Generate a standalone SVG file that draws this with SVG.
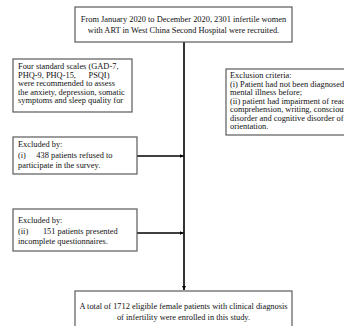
<svg xmlns="http://www.w3.org/2000/svg" width="344" height="326" viewBox="0 0 344 326">
<defs>
<style>
.box{fill:#fff;stroke:#5a5a5a;stroke-width:1.2}
.t{font-family:"Liberation Serif","Times New Roman",serif;font-size:8.4px;fill:#111;white-space:pre}
.c{text-anchor:middle}
.ln{stroke:#000;stroke-width:1.6;fill:none}
</style>
<marker id="ah" viewBox="0 0 10 10" refX="10" refY="5" markerWidth="4" markerHeight="4" orient="auto" markerUnits="userSpaceOnUse">
<path d="M0,0 L10,5 L0,10 Z" fill="#000"/>
</marker>
</defs>
<rect width="344" height="326" fill="#fff"/>
<g id="connectors">
<line class="ln" x1="184" y1="42" x2="184" y2="290" marker-end="url(#ah)"/>
<line class="ln" x1="137" y1="156" x2="183.5" y2="156" marker-end="url(#ah)"/>
<line class="ln" x1="137" y1="233" x2="183.5" y2="233" marker-end="url(#ah)"/>
</g>
<g id="start">
<rect class="box" x="75" y="7" width="217" height="35"/>
<text class="t c" x="183.5" y="21.5">From January 2020 to December 2020, 2301 infertile women</text>
<text class="t c" x="183.5" y="32.5">with ART in West China Second Hospital were recruited.</text>
</g>
<g id="scales">
<rect class="box" x="13" y="59" width="119" height="53"/>
<text class="t" x="18" y="69">Four standard scales (GAD-7,</text>
<text class="t" x="18" y="77.5" xml:space="preserve">PHQ-9, PHQ-15,      PSQI)</text>
<text class="t" x="18" y="86">were recommended to assess</text>
<text class="t" x="18" y="94.5">the anxiety, depression, somatic</text>
<text class="t" x="18" y="103">symptoms and sleep quality for</text>
</g>
<g id="criteria">
<rect class="box" x="226" y="69" width="130" height="66"/>
<text class="t" x="230" y="78">Exclusion criteria:</text>
<text class="t" x="230" y="86.5">(i) Patient had not been diagnosed with</text>
<text class="t" x="230" y="95">mental illness before;</text>
<text class="t" x="230" y="103.5">(ii) patient had impairment of reading,</text>
<text class="t" x="230" y="112">comprehension, writing, consciousness</text>
<text class="t" x="230" y="120.5">disorder and cognitive disorder of</text>
<text class="t" x="230" y="129">orientation.</text>
</g>
<g id="excl1">
<rect class="box" x="13" y="137" width="124" height="37"/>
<text class="t" x="18" y="147">Excluded by:</text>
<text class="t" x="18" y="157.5" xml:space="preserve">(i)     438 patients refused to</text>
<text class="t" x="18" y="168">participate in the survey.</text>
</g>
<g id="excl2">
<rect class="box" x="13" y="209" width="124" height="42"/>
<text class="t" x="18" y="223">Excluded by:</text>
<text class="t" x="18" y="233.5" xml:space="preserve">(ii)       151 patients presented</text>
<text class="t" x="18" y="243.5">incomplete questionnaires.</text>
</g>
<g id="end">
<rect class="box" x="75" y="291" width="217" height="40"/>
<text class="t c" x="183.5" y="308.5">A total of 1712 eligible female patients with clinical diagnosis</text>
<text class="t c" x="183.5" y="319.5">of infertility were enrolled in this study.</text>
</g>
</svg>
